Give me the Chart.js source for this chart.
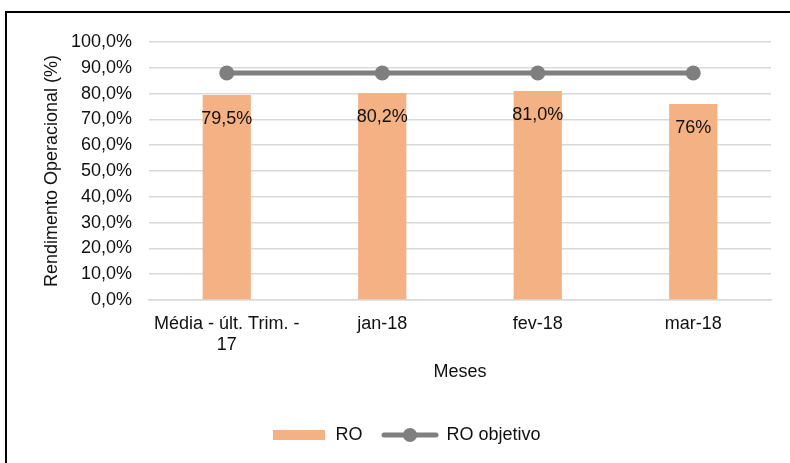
<!DOCTYPE html>
<html>
<head>
<meta charset="utf-8">
<script src="https://cdn.jsdelivr.net/npm/chart.js@4/dist/chart.umd.min.js"></script>
<style>
    html, body { margin: 0; padding: 0; background: #fff; }
    #wrap { position: relative; width: 790px; height: 463px; overflow: hidden; }
    #frame { position: absolute; left: 5px; top: 11px; width: 900px; height: 600px; border-left: 2px solid #000; border-top: 2px solid #000; pointer-events: none; }
    canvas { position: absolute; left: 0; top: 0; }
</style>
</head>
<body>
<div id="wrap">
    <canvas id="myChart" width="790" height="463"></canvas>
    <div id="frame"></div>
</div>
<script>
const meses = [['Média - últ. Trim. -', '17'], 'jan-18', 'fev-18', 'mar-18'];
const ro = [79.5, 80.2, 81.0, 76];
const roTexto = ['79,5%', '80,2%', '81,0%', '76%'];
const roObjetivo = [88, 88, 88, 88];

const FONT = "'Liberation Sans', Arial, sans-serif";
const laranja = '#F4B183';
const cinza = '#7F7F7F';

// legend icons (bar box and line with marker)
function iconBar() {
    const c = document.createElement('canvas');
    c.width = 52; c.height = 10;
    const g = c.getContext('2d');
    g.fillStyle = laranja;
    g.fillRect(0, 0, 52, 10);
    return c;
}
function iconLine() {
    const c = document.createElement('canvas');
    c.width = 58; c.height = 16;
    const g = c.getContext('2d');
    g.strokeStyle = cinza;
    g.lineWidth = 5;
    g.lineCap = 'round';
    g.beginPath(); g.moveTo(3, 8); g.lineTo(55, 8); g.stroke();
    g.fillStyle = cinza;
    g.beginPath(); g.arc(29, 8, 7, 0, Math.PI * 2); g.fill();
    return c;
}

const barLabels = {
    id: 'barLabels',
    afterDatasetsDraw(chart) {
        const ctx = chart.ctx;
        const meta = chart.getDatasetMeta(1);
        ctx.save();
        ctx.font = '18px ' + FONT;
        ctx.fillStyle = '#111';
        ctx.textAlign = 'center';
        ctx.textBaseline = 'middle';
        meta.data.forEach((bar, i) => {
            ctx.fillText(roTexto[i], bar.x, bar.y + 24);
        });
        ctx.restore();
    }
};

const ctx = document.getElementById('myChart').getContext('2d');
const chart = new Chart(ctx, {
    data: {
        labels: meses,
        datasets: [{
            type: 'line',
            label: 'RO objetivo',
            data: roObjetivo,
            borderColor: cinza,
            backgroundColor: cinza,
            borderWidth: 5,
            pointRadius: 7.5,
            pointHoverRadius: 7.5,
            pointBackgroundColor: cinza,
            pointBorderWidth: 0,
            order: 0
        }, {
            type: 'bar',
            label: 'RO',
            data: ro,
            backgroundColor: laranja,
            barPercentage: 0.31,
            categoryPercentage: 1,
            order: 1
        }]
    },
    plugins: [barLabels],
    options: {
        responsive: false,
        animation: false,
        layout: { padding: { left: 41, right: 19, top: 42, bottom: 9 } },
        plugins: {
            tooltip: { enabled: false },
            legend: {
                position: 'bottom',
                labels: {
                    usePointStyle: true,
                    pointStyleWidth: 55,
                    padding: 20,
                    color: '#111',
                    font: { family: FONT, size: 18 },
                    generateLabels: c => {
                        const items = Chart.defaults.plugins.legend.labels.generateLabels(c);
                        items.forEach(it => {
                            it.pointStyle = it.datasetIndex === 1 ? iconBar() : iconLine();
                        });
                        return items.sort((a, b) => b.datasetIndex - a.datasetIndex);
                    }
                }
            }
        },
        scales: {
            x: {
                grid: { display: false, drawTicks: false },
                border: { color: '#D9D9D9', width: 1.5 },
                ticks: { color: '#111', padding: 13, maxRotation: 0, font: { family: FONT, size: 18, lineHeight: 1.2 } },
                title: { display: true, text: 'Meses', color: '#111', padding: { top: 0, bottom: 23 }, font: { family: FONT, size: 18 } },
                afterFit: s => { s.height = 106; }
            },
            y: {
                min: 0,
                max: 100,
                grid: { color: '#D9D9D9', lineWidth: 1.5, drawTicks: false },
                border: { display: false },
                ticks: {
                    stepSize: 10,
                    padding: 17,
                    color: '#111',
                    font: { family: FONT, size: 18 },
                    callback: v => v.toFixed(1).replace('.', ',') + '%'
                },
                title: { display: true, text: 'Rendimento Operacional (%)', color: '#111', padding: 0, font: { family: FONT, size: 18 } },
                afterFit: s => { s.width = 108; }
            }
        }
    }
});
</script>
</body>
</html>
